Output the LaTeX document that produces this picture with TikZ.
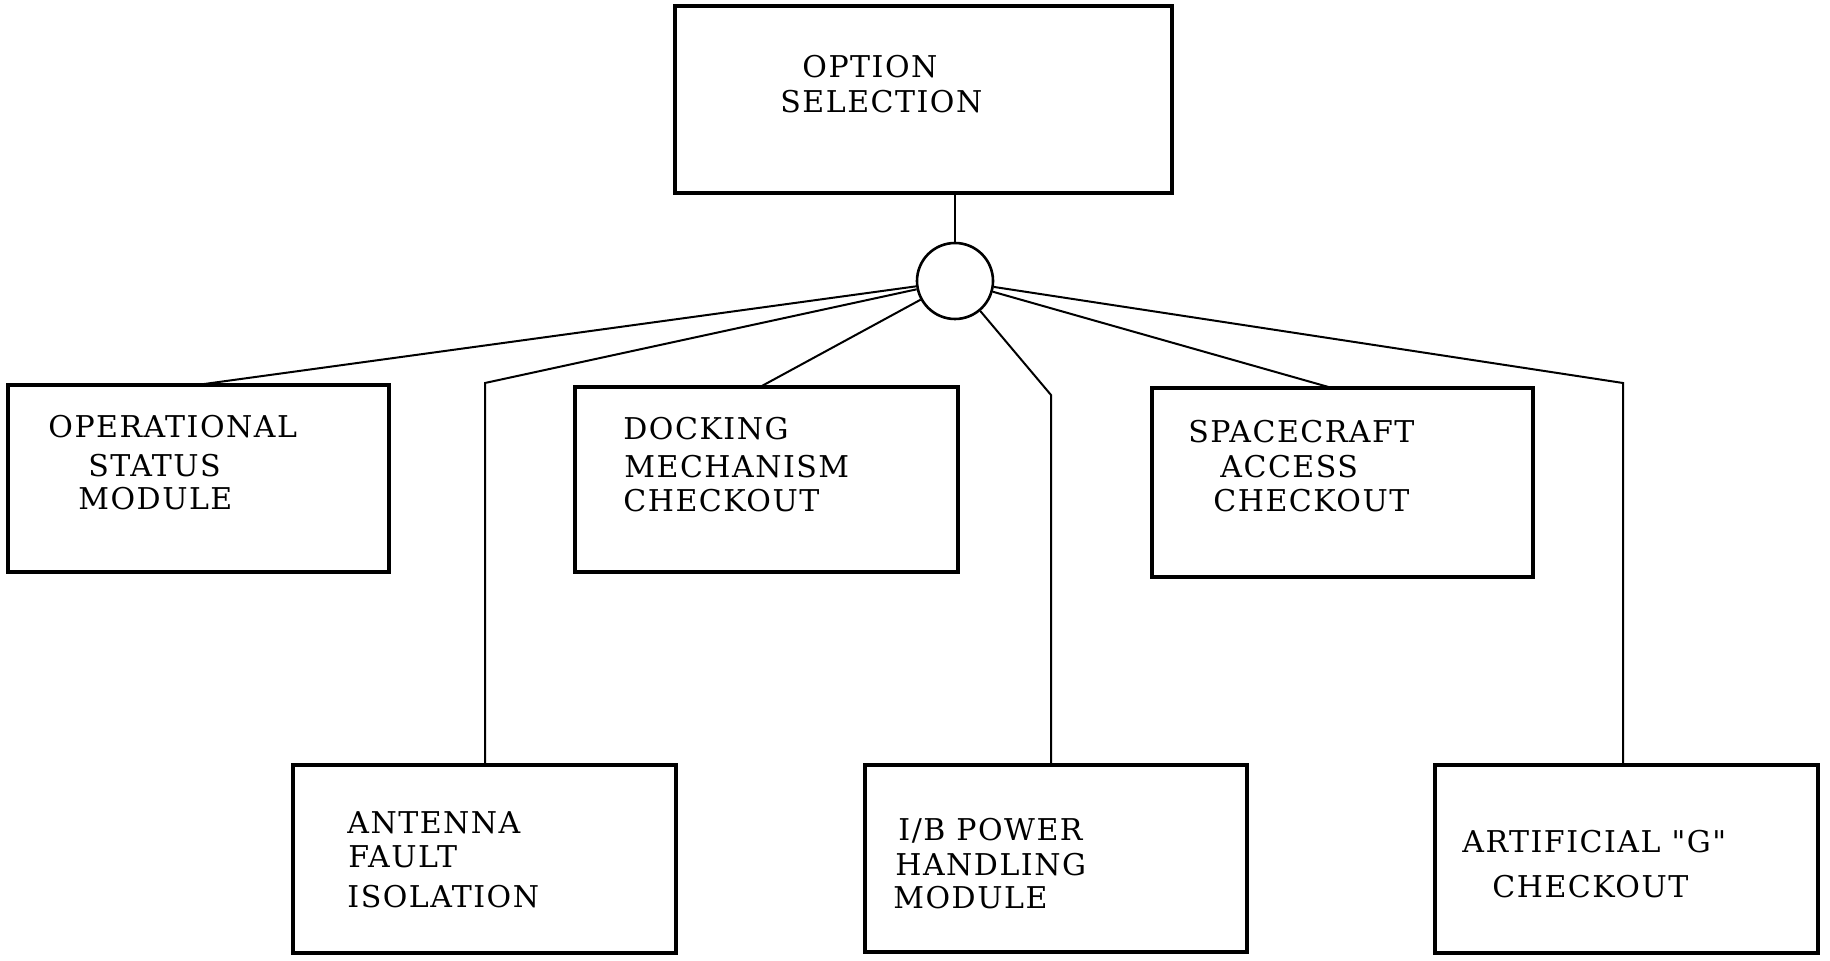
\documentclass[tikz,border=0pt]{standalone}
\usepackage{fontspec}
\setmainfont{DejaVu Serif}[LetterSpace=5,Ligatures=TeXOff]
\begin{document}
\begin{tikzpicture}[x=0.5pt,y=-0.5pt,
  blk/.style={draw,line width=1.8pt,rectangle,inner sep=0pt},
  lbl/.style={anchor=base west,inner sep=0pt,font=\fontsize{15}{18}\selectfont},
  wire/.style={line width=1pt},
  hubc/.style={draw,circle,line width=1.3pt,minimum size=38pt,inner sep=0pt}]
\useasboundingbox (0,0) rectangle (1830,961);

% boxes (given by corners)
\node[blk,minimum width=497*0.5pt,minimum height=187*0.5pt] (opt) at (923.5,99.5) {};
\node[blk,minimum width=381*0.5pt,minimum height=187*0.5pt] (ops) at (198.5,478.5) {};
\node[blk,minimum width=383*0.5pt,minimum height=185*0.5pt] (dock) at (766.5,479.5) {};
\node[blk,minimum width=381*0.5pt,minimum height=189*0.5pt] (sc) at (1342.5,482.5) {};
\node[blk,minimum width=383*0.5pt,minimum height=188*0.5pt] (ant) at (484.5,859) {};
\node[blk,minimum width=382*0.5pt,minimum height=187*0.5pt] (ib) at (1056,858.5) {};
\node[blk,minimum width=383*0.5pt,minimum height=188*0.5pt] (art) at (1626.5,859) {};

% junction
\node[hubc] (hub) at (955,281) {};

% labels
\node[lbl] (t1) at (802,78) {OPTION};
\node[lbl] (t2) at (780,113) {SELECTION};
\node[lbl] (t3) at (48,438) {OPERATIONAL};
\node[lbl] (t4) at (88,477) {STATUS};
\node[lbl] (t5) at (78,510) {MODULE};
\node[lbl] (t6) at (623,440) {DOCKING};
\node[lbl] (t7) at (624,478) {MECHANISM};
\node[lbl] (t8) at (623,512) {CHECKOUT};
\node[lbl] (t9) at (1188,443) {SPACECRAFT};
\node[lbl] (t10) at (1220,478) {ACCESS};
\node[lbl] (t11) at (1213,512) {CHECKOUT};
\node[lbl] (t12) at (347,833) {ANTENNA};
\node[lbl] (t13) at (348,867) {FAULT};
\node[lbl] (t14) at (347,907) {ISOLATION};
\node[lbl] (t15) at (898,840) {I/B POWER};
\node[lbl] (t16) at (895,875) {HANDLING};
\node[lbl] (t17) at (893,908) {MODULE};
\node[lbl] (t18) at (1462,852) {ARTIFICIAL "G"};
\node[lbl] (t19) at (1492,897) {CHECKOUT};

% attachment points
\coordinate (pops) at (197,385);
\coordinate (pdock) at (760,387);
\coordinate (psc) at (1332,388);
\coordinate (kant) at (485,383);
\coordinate (kib) at (1051,395);
\coordinate (kart) at (1623,383);

% connectors
\draw[wire] (opt.south -| hub) -- (hub);
\draw[wire] (hub) -- (pops);
\draw[wire] (hub) -- (pdock);
\draw[wire] (hub) -- (psc);
\draw[wire] (hub) -- (kant) -- (kant |- ant.north);
\draw[wire] (hub) -- (kib) -- (kib |- ib.north);
\draw[wire] (hub) -- (kart) -- (kart |- art.north);
\end{tikzpicture}
\end{document}
